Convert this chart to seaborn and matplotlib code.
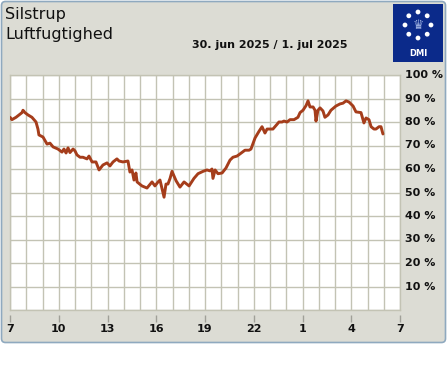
import numpy as np
import pandas as pd
import matplotlib
matplotlib.use("Agg")
import matplotlib.pyplot as plt
from matplotlib.patches import FancyBboxPatch, Rectangle, Circle
import seaborn as sns

# ---- data (hours after 07:00, relative humidity %) ----
hours = [0.00, 0.12, 0.37, 0.74, 0.80, 0.92, 1.11, 1.35, 1.60, 1.72, 1.78, 2.03, 2.28, 2.46,
         2.65, 2.95, 3.20, 3.32, 3.45, 3.57, 3.69, 3.88, 4.00, 4.12, 4.31, 4.49, 4.74, 4.86,
         5.05, 5.29, 5.48, 5.72, 5.97, 6.15, 6.34, 6.58, 6.71, 6.95, 7.26, 7.38, 7.51, 7.63,
         7.75, 7.82, 8.12, 8.43, 8.74, 8.92, 9.11, 9.23, 9.48, 9.60, 9.72, 9.85, 9.97, 10.22,
         10.46, 10.71, 11.02, 11.32, 11.57, 11.88, 12.12, 12.31, 12.43, 12.49, 12.62, 12.80,
         13.05, 13.29, 13.54, 13.72, 13.97, 14.15, 14.46, 14.71, 14.83, 15.08, 15.32, 15.51,
         15.69, 15.82, 16.06, 16.18, 16.43, 16.55, 16.74, 16.86, 17.05, 17.23, 17.48, 17.72,
         17.85, 18.03, 18.22, 18.34, 18.46, 18.65, 18.77, 18.83, 18.95, 19.08, 19.26, 19.38,
         19.57, 19.75, 20.06, 20.31, 20.49, 20.68, 20.86, 21.11, 21.29, 21.60, 21.78, 21.91,
         22.09, 22.22, 22.40, 22.52, 22.71, 22.83, 22.95]
humidity = [82.0, 81.0, 82.0, 84.0, 85.0, 84.0, 83.0, 82.0, 80.0, 77.0, 74.5, 73.6, 70.6, 71.0,
            69.4, 68.5, 67.2, 68.5, 66.8, 69.0, 67.0, 68.5, 67.7, 66.0, 65.0, 65.0, 64.3, 65.5,
            63.0, 63.0, 59.6, 61.7, 62.6, 61.3, 63.0, 64.3, 63.4, 63.0, 63.4, 58.7, 59.6, 55.3,
            58.3, 54.5, 52.8, 51.9, 54.5, 52.8, 54.5, 55.3, 48.0, 53.6, 53.6, 56.0, 59.0, 55.0,
            52.3, 54.5, 52.8, 56.0, 58.0, 59.0, 59.6, 59.2, 60.0, 56.0, 59.6, 58.0,
            58.3, 60.4, 63.8, 65.0, 65.5, 66.4, 68.0, 68.0, 68.5, 73.2, 76.0, 78.0,
            75.3, 77.0, 77.0, 77.0, 79.0, 80.0, 80.0, 80.4, 80.0, 81.0, 81.0, 82.0,
            84.0, 85.0, 87.0, 89.0, 86.4, 86.4, 85.0, 80.4, 85.0, 86.0, 84.7, 82.0,
            83.0, 85.0, 86.8, 87.7, 88.0, 89.0, 88.5, 86.8, 84.3, 84.0, 79.6, 81.7,
            81.0, 78.0, 77.0, 77.0, 78.0, 78.0, 74.9]
xtick_pos = [0, 3, 6, 9, 12, 15, 18, 21, 24]
xtick_labels = ["7", "10", "13", "16", "19", "22", "1", "4", "7"]
ytick_pos = [10, 20, 30, 40, 50, 60, 70, 80, 90, 100]
ytick_labels = ["10 %", "20 %", "30 %", "40 %", "50 %", "60 %", "70 %", "80 %", "90 %", "100 %"]
station = "Silstrup"
param = "Luftfugtighed"
date_text = "30. jun 2025 / 1. jul 2025"

df = pd.DataFrame({"hour": hours, "rh": humidity})

W, H = 447, 370
sns.set_theme(style="white")
plt.rcParams['font.family'] = ['DejaVu Sans']
fig = plt.figure(figsize=(W / 100, H / 100), dpi=100)
fig.patch.set_facecolor("white")

def fx(x):
    return x / W

def fy(y):
    return 1 - y / H

# background panel with rounded corners (in its own bottom axes)
bax = fig.add_axes([0, 0, 1, 1], zorder=-5)
bax.set_xlim(0, W)
bax.set_ylim(H, 0)
bax.axis("off")
bax.add_patch(FancyBboxPatch((1.5, 1.5), 444, 341,
                             boxstyle="round,pad=0,rounding_size=4",
                             facecolor="#dcdcd4", edgecolor="#8fa9bf", linewidth=1.2))

grid_c = "#c3c3b4"
ax = fig.add_axes([fx(10), fy(310), fx(400) - fx(10), fy(75) - fy(310)], zorder=1)
ax.set_facecolor("white")
sns.lineplot(data=df, x="hour", y="rh", ax=ax, color="#a53d1b", linewidth=2.1,
             solid_joinstyle="round", solid_capstyle="round", zorder=3)
ax.set_xlim(0, 24)
ax.set_ylim(0, 100)
ax.set_xticks(range(0, 25))
ax.set_yticks(range(0, 101, 10))
ax.grid(True, color=grid_c, linewidth=1.0)
ax.tick_params(axis="both", length=0, labelbottom=False, labelleft=False)
ax.set_xlabel("")
ax.set_ylabel("")
for s in ax.spines.values():
    s.set_color(grid_c)
    s.set_linewidth(1.0)

# right-hand percentage labels
for v, lab in zip(ytick_pos, ytick_labels):
    ax.text(1.0 + 5 / 390, v, lab, transform=ax.get_yaxis_transform(),
            ha="left", va="center", fontsize=8, fontweight="bold", color="#111111")

# bottom hour ticks, offset below the plot
sec = ax.secondary_xaxis(-5 / 235)
sec.set_xticks(xtick_pos)
sec.set_xticklabels(xtick_labels, fontsize=8, fontweight="bold", color="#111111")
sec.tick_params(length=5, color="#a0a098", width=1, pad=1.5, direction="out")
sec.spines["bottom"].set_visible(False)

# titles
fig.text(fx(5), fy(15), station, fontsize=11.5, ha="left", va="center", color="#111111")
fig.text(fx(5), fy(35), param, fontsize=11.5, ha="left", va="center", color="#111111")
fig.text(fx(270), fy(45), date_text, fontsize=8, fontweight="bold", ha="center",
         va="center", color="#111111")

# DMI logo
lax = fig.add_axes([fx(393), fy(62), fx(443) - fx(393), fy(4) - fy(62)], zorder=2)
lax.set_xlim(393, 443)
lax.set_ylim(62, 4)
lax.axis("off")
lax.add_patch(Rectangle((393, 4), 50, 58, facecolor="#0b2a8a", edgecolor="none"))
cx, cy, r = 418, 25, 13
for k in range(8):
    a = np.pi / 2 + k * np.pi / 4
    lax.add_patch(Circle((cx + r * np.cos(a), cy - r * np.sin(a)), 2.4,
                         facecolor="white", edgecolor="none"))
lax.text(cx, cy + 0.5, "♛", fontsize=9, color="#9db0e0", ha="center", va="center")
lax.text(cx, 54, "DMI", fontsize=6, color="white", ha="center", va="center",
         fontweight="bold")

fig.savefig("out.png", dpi=100, facecolor="white")
